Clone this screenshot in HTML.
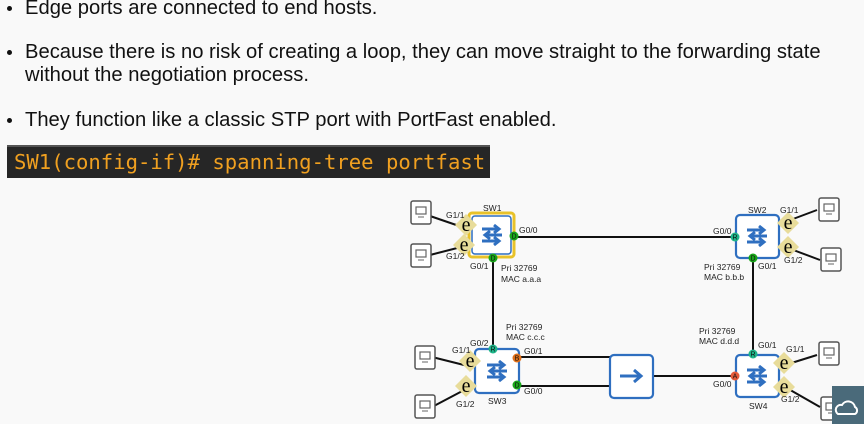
<!DOCTYPE html>
<html><head><style>
html,body{margin:0;padding:0;background:#f9f9f9;}
body{width:864px;height:424px;overflow:hidden;position:relative;font-family:"Liberation Sans",sans-serif;}
.t{position:absolute;left:25px;font-size:20.2px;color:#111;white-space:nowrap;line-height:23px;}
.b{position:absolute;left:7px;width:5px;height:5px;border-radius:50%;background:#111;}
.code{position:absolute;left:7px;top:145px;width:483px;height:33px;background:#262626;border-top:2px solid #555;box-sizing:border-box;color:#f0a020;font-family:"DejaVu Sans Mono","Liberation Mono",monospace;font-size:20.6px;line-height:30px;padding-left:7px;white-space:nowrap;}
</style></head><body>
<div class="b" style="top:6px"></div><div class="t" style="top:-3px">Edge ports are connected to end hosts.</div>
<div class="b" style="top:50px"></div><div class="t" style="top:41px">Because there is no risk of creating a loop, they can move straight to the forwarding state</div>
<div class="t" style="top:64px">without the negotiation process.</div>
<div class="b" style="top:118px"></div><div class="t" style="top:109px">They function like a classic STP port with PortFast enabled.</div>
<div class="code">SW1(config-if)# spanning-tree portfast</div>
<svg width="864" height="424" style="position:absolute;left:0;top:0" font-family="Liberation Sans,sans-serif">
<defs>
<g id="host"><rect x="0" y="0" width="20" height="23" rx="2" fill="#fff" stroke="#555" stroke-width="1.5"/><rect x="5" y="6" width="10" height="7" fill="none" stroke="#666" stroke-width="1.2"/><line x1="7" y1="16" x2="13" y2="16" stroke="#666"/></g>
<g id="sw"><path d="M-10 -6 h16 M2 -10 l5 4 -5 4 M10 0 h-16 M-2 -4 l-5 4 5 4 M-10 6 h16 M2 2 l5 4 -5 4" fill="none" stroke="#2f6fc0" stroke-width="3"/></g>
<g id="e"><polygon points="0,-11 11,0 0,11 -11,0" fill="#e8dc9a"/><text x="0" y="6" font-size="20" text-anchor="middle" font-family="Liberation Serif,serif">e</text></g>
</defs>
<g stroke="#111" stroke-width="2" fill="none">
<line x1="514" y1="237" x2="736" y2="237"/>
<line x1="493" y1="258" x2="493" y2="349"/>
<line x1="753" y1="258" x2="753" y2="355"/>
<line x1="517" y1="357" x2="610" y2="357"/>
<line x1="517" y1="386" x2="610" y2="386"/>
<line x1="653" y1="376" x2="736" y2="376"/>
<line x1="430" y1="216" x2="465" y2="228"/><line x1="430" y1="255" x2="465" y2="246"/>
<line x1="432" y1="357" x2="468" y2="366"/><line x1="432" y1="407" x2="468" y2="388"/>
<line x1="817" y1="210" x2="785" y2="222"/><line x1="820" y1="260" x2="788" y2="248"/>
<line x1="817" y1="355" x2="785" y2="365"/><line x1="820" y1="407" x2="785" y2="387"/>
</g>
<use href="#host" x="411" y="201"/><use href="#host" x="411" y="244"/>
<use href="#host" x="415" y="346"/><use href="#host" x="415" y="395"/>
<use href="#host" x="819" y="198"/><use href="#host" x="821" y="248"/>
<use href="#host" x="819" y="342"/><use href="#host" x="821" y="397"/>
<rect x="469" y="213" width="45" height="44" rx="3" fill="#fff" stroke="#e8c22a" stroke-width="3"/>
<rect x="472" y="216" width="39" height="38" rx="3" fill="#fff" stroke="#2f6fc0" stroke-width="1.5"/>
<use href="#sw" x="492" y="235"/>
<rect x="736" y="215" width="43" height="43" rx="4" fill="#fff" stroke="#2f6fc0" stroke-width="2.2"/><use href="#sw" x="757" y="236"/>
<rect x="475" y="349" width="44" height="44" rx="4" fill="#fff" stroke="#2f6fc0" stroke-width="2.2"/><use href="#sw" x="497" y="371"/>
<rect x="736" y="355" width="43" height="42" rx="4" fill="#fff" stroke="#2f6fc0" stroke-width="2.2"/><use href="#sw" x="757" y="376"/>
<rect x="610" y="355" width="43" height="43" rx="4" fill="#fff" stroke="#2f6fc0" stroke-width="2.2"/>
<path d="M620 376 h20 M634 370 l7 6 -7 6" stroke="#2f6fc0" stroke-width="3" fill="none"/>
<use href="#e" x="466" y="225"/><use href="#e" x="464" y="245"/>
<use href="#e" x="470" y="361"/><use href="#e" x="466" y="386"/>
<use href="#e" x="788" y="223"/><use href="#e" x="788" y="247"/>
<use href="#e" x="784" y="363"/><use href="#e" x="784" y="387"/>
<g font-size="7" text-anchor="middle" fill="#111">
<circle cx="514" cy="236" r="4.5" fill="#19a61a"/><text x="514" y="238.5">D</text>
<circle cx="493" cy="258" r="4.5" fill="#19a61a"/><text x="493" y="260.5">D</text>
<circle cx="735" cy="237" r="4.5" fill="#1fb68a"/><text x="735" y="239.5">R</text>
<circle cx="753" cy="258" r="4.5" fill="#19a61a"/><text x="753" y="260.5">D</text>
<circle cx="493" cy="349" r="4.5" fill="#1fb68a"/><text x="493" y="351.5">R</text>
<circle cx="517" cy="358" r="4.5" fill="#e0701a"/><text x="517" y="360.5">B</text>
<circle cx="517" cy="385" r="4.5" fill="#19a61a"/><text x="517" y="387.5">D</text>
<circle cx="753" cy="354" r="4.5" fill="#1fb68a"/><text x="753" y="356.5">R</text>
<circle cx="735" cy="376" r="4.5" fill="#e55a3a"/><text x="735" y="378.5">A</text>
</g>
<g font-size="8.5" fill="#222">
<text x="483" y="211">SW1</text><text x="748" y="213">SW2</text><text x="488" y="404">SW3</text><text x="749" y="409">SW4</text>
<text x="446" y="218">G1/1</text><text x="446" y="259">G1/2</text>
<text x="519" y="233">G0/0</text><text x="470" y="269">G0/1</text>
<text x="501" y="271">Pri 32769</text><text x="501" y="282">MAC a.a.a</text>
<text x="506" y="330">Pri 32769</text><text x="506" y="340">MAC c.c.c</text>
<text x="470" y="346">G0/2</text><text x="452" y="353">G1/1</text><text x="456" y="407">G1/2</text>
<text x="524" y="354">G0/1</text><text x="524" y="394">G0/0</text>
<text x="713" y="234">G0/0</text><text x="780" y="213">G1/1</text><text x="784" y="263">G1/2</text>
<text x="758" y="269">G0/1</text>
<text x="704" y="270">Pri 32769</text><text x="704" y="280">MAC b.b.b</text>
<text x="699" y="334">Pri 32769</text><text x="699" y="344">MAC d.d.d</text>
<text x="758" y="348">G0/1</text><text x="786" y="352">G1/1</text><text x="713" y="387">G0/0</text><text x="781" y="402">G1/2</text>
</g>
<rect x="832" y="386" width="32" height="38" fill="#4a6a7a"/>
<path d="M838 414 a5 5 0 0 1 4 -9 a7 7 0 0 1 13 2 a4 4 0 0 1 0 7 z" fill="none" stroke="#fff" stroke-width="2"/>
</svg>
</body></html>
